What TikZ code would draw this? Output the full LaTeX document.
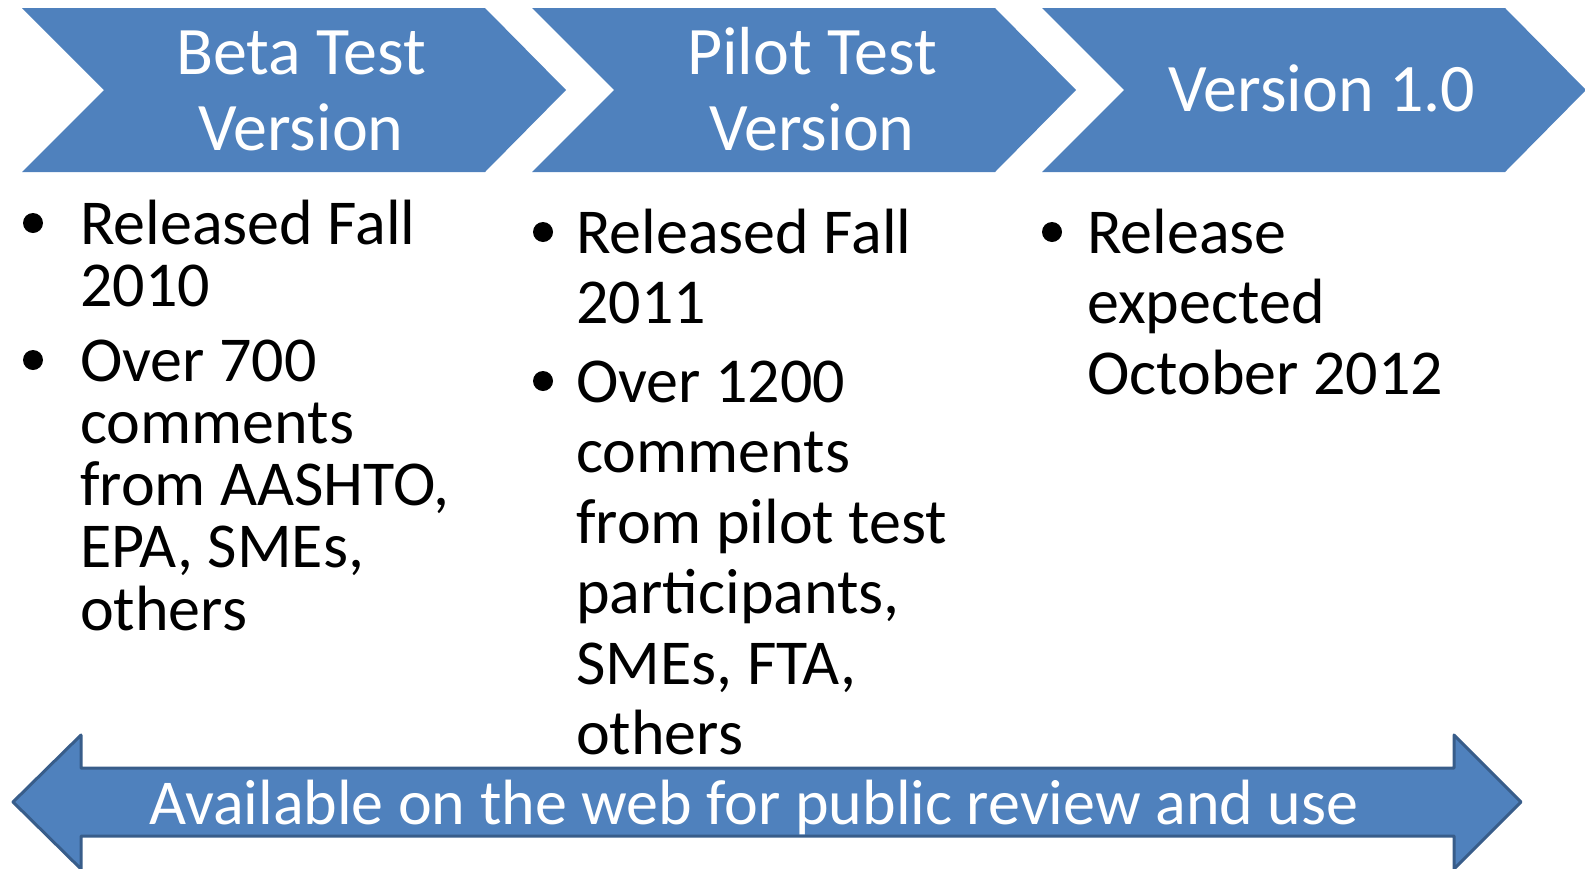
\documentclass[tikz,border=0pt]{standalone}
\usepackage{fontspec}
\setmainfont{Carlito}
\definecolor{accent}{HTML}{4F81BD}
\definecolor{accentdark}{HTML}{385D8A}
\begin{document}
\begin{tikzpicture}[x=1pt,y=-1pt,
  chev/.style={fill=accent, draw=none},
  headtxt/.style={font=\fontsize{68}{76}\selectfont, text=white, align=center, inner sep=0pt, anchor=base},
  bodyA/.style={font=\fontsize{64}{62.3}\selectfont, align=left, inner sep=0pt, anchor=base west},
  bodyB/.style={font=\fontsize{64}{70.5}\selectfont, align=left, inner sep=0pt, anchor=base west},
  bul/.style={circle, fill=black, inner sep=0pt, minimum size=20pt},
  dblarrow/.style={fill=accent, draw=accentdark, line width=3pt, line join=round}]
\useasboundingbox (0,0) rectangle (1585,868);

% chevrons
\path[chev] (22,8) -- (485,8) -- (566,90) -- (485,172) -- (22,172) -- (104,90) -- cycle;
\path[chev] (532,8) -- (995,8) -- (1076,90) -- (995,172) -- (532,172) -- (614,90) -- cycle;
\path[chev] (1042,8) -- (1505,8) -- (1586,90) -- (1505,172) -- (1042,172) -- (1124,90) -- cycle;

% (base anchor of a multi-line node = baseline of its last line)
\node[headtxt] (h1) at (301,150) {Beta Test\\Version};
\node[headtxt] (h2) at (812,150) {Pilot Test\\Version};
\node[headtxt] (h3) at (1322,111) {Version 1.0};

% column 1
\node[bul] (b1) at (33,223) {};
\node[bodyA] (t1) at (80,306.3) {Released Fall\\2010};
\node[bul] (b2) at (33,360) {};
\node[bodyA] (t2) at (80,630.2) {Over 700\\comments\\from AASHTO,\\EPA, SMEs,\\others};

% column 2
\node[bul] (b3) at (543,232) {};
\node[bodyB] (t3) at (576,323.5) {Released Fall\\2011};
\node[bul] (b4) at (543,381) {};
\node[bodyB] (t4) at (576,754.5) {Over 1200\\comments\\from pilot test\\participants,\\SMEs, FTA,\\others};

% column 3
\node[bul] (b5) at (1052,232) {};
\node[bodyB] (t5) at (1087,394) {Release\\expected\\October 2012};

% double arrow
\draw[dblarrow] (13,802) -- (81,735) -- (81,768) -- (1454,768) -- (1454,735) -- (1521,802)
  -- (1454,869) -- (1454,836) -- (81,836) -- (81,869) -- cycle;
\node[font=\fontsize{64}{70}\selectfont, text=white, inner sep=0pt, anchor=base west] (av) at (149,824)
  {Available on the web for public review and use};
\end{tikzpicture}
\end{document}
